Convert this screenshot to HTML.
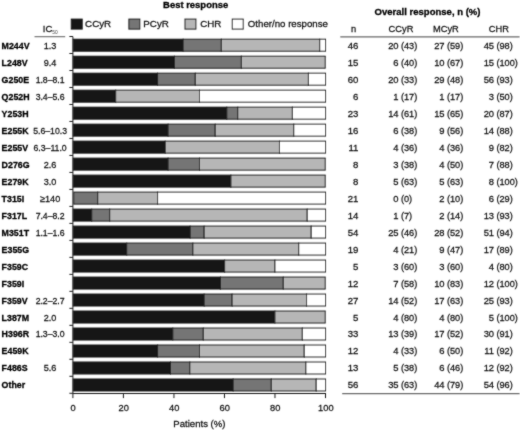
<!DOCTYPE html>
<html><head><meta charset="utf-8"><title>Best response</title>
<style>
html,body{margin:0;padding:0;background:#fff;}
svg{display:block;}
text{font-family:"Liberation Sans",sans-serif;}
.b{font-weight:bold;fill:#000;stroke:#000;stroke-width:0.3;}
.r{fill:#141414;stroke:#141414;stroke-width:0.27;}
</style></head><body>
<svg width="520" height="430" viewBox="0 0 520 430">
<rect width="520" height="430" fill="#fff"/>
<defs><filter id="soft" x="0" y="0" width="520" height="430" filterUnits="userSpaceOnUse"><feConvolveMatrix order="3" kernelMatrix="0.025 0.075 0.025 0.075 0.6 0.075 0.025 0.075 0.025" divisor="1" edgeMode="duplicate" preserveAlpha="false"/></filter></defs>
<g filter="url(#soft)">

<text class="b" transform="translate(163.10 8.30) scale(0.975 1)" font-size="9.7">Best response</text>
<text class="b" transform="translate(374.60 15.30) scale(0.983 1)" font-size="9.7">Overall response, n (%)</text>
<rect x="71.3" y="19.1" width="10.9" height="10" fill="#181818" stroke="#1c1c1c" stroke-width="1"/>
<rect x="128.9" y="19.1" width="10.9" height="10" fill="#757575" stroke="#1c1c1c" stroke-width="1"/>
<rect x="185.0" y="19.1" width="10.9" height="10" fill="#b6b6b6" stroke="#1c1c1c" stroke-width="1"/>
<rect x="232.3" y="19.1" width="10.9" height="10" fill="#ffffff" stroke="#1c1c1c" stroke-width="1"/>
<text class="r" transform="translate(85.10 27.30) scale(1.02 1)" font-size="9.6">CCyR</text>
<text class="r" transform="translate(143.30 27.30) scale(1.02 1)" font-size="9.6">PCyR</text>
<text class="r" transform="translate(200.20 27.30) scale(1.02 1)" font-size="9.6">CHR</text>
<text class="r" transform="translate(247.80 27.30) scale(1.01 1)" font-size="9.6">Other/no response</text>
<text class="r" transform="translate(42.80 32.00) scale(0.98 1)" font-size="9.7">IC<tspan font-size="4.9" dy="1.5" stroke-width="0" fill="#444">50</tspan></text>
<line x1="34.5" y1="36.7" x2="65.2" y2="36.7" stroke="#6a6a6a" stroke-width="1.1"/>
<text class="r" transform="translate(353.60 31.80) scale(1.0 1)" font-size="9.3" text-anchor="middle">n</text>
<text class="r" transform="translate(388.60 32.20) scale(0.95 1)" font-size="9.8">CCyR</text>
<text class="r" transform="translate(433.00 32.20) scale(0.95 1)" font-size="9.8">MCyR</text>
<text class="r" transform="translate(488.80 32.20) scale(0.95 1)" font-size="9.8">CHR</text>
<line x1="340.3" y1="36.9" x2="519.5" y2="36.9" stroke="#6a6a6a" stroke-width="1.2"/>
<line x1="342.2" y1="393.7" x2="519.5" y2="393.7" stroke="#6a6a6a" stroke-width="1.2"/>
<line x1="72.9" y1="36.5" x2="72.9" y2="393.5" stroke="#1c1c1c" stroke-width="1"/>
<line x1="72.4" y1="393.5" x2="326.0" y2="393.5" stroke="#1c1c1c" stroke-width="1"/>
<line x1="69.4" y1="36.50" x2="72.9" y2="36.50" stroke="#1c1c1c" stroke-width="1"/>
<line x1="69.4" y1="53.49" x2="72.9" y2="53.49" stroke="#1c1c1c" stroke-width="1"/>
<line x1="69.4" y1="70.48" x2="72.9" y2="70.48" stroke="#1c1c1c" stroke-width="1"/>
<line x1="69.4" y1="87.47" x2="72.9" y2="87.47" stroke="#1c1c1c" stroke-width="1"/>
<line x1="69.4" y1="104.46" x2="72.9" y2="104.46" stroke="#1c1c1c" stroke-width="1"/>
<line x1="69.4" y1="121.45" x2="72.9" y2="121.45" stroke="#1c1c1c" stroke-width="1"/>
<line x1="69.4" y1="138.44" x2="72.9" y2="138.44" stroke="#1c1c1c" stroke-width="1"/>
<line x1="69.4" y1="155.43" x2="72.9" y2="155.43" stroke="#1c1c1c" stroke-width="1"/>
<line x1="69.4" y1="172.42" x2="72.9" y2="172.42" stroke="#1c1c1c" stroke-width="1"/>
<line x1="69.4" y1="189.41" x2="72.9" y2="189.41" stroke="#1c1c1c" stroke-width="1"/>
<line x1="69.4" y1="206.40" x2="72.9" y2="206.40" stroke="#1c1c1c" stroke-width="1"/>
<line x1="69.4" y1="223.39" x2="72.9" y2="223.39" stroke="#1c1c1c" stroke-width="1"/>
<line x1="69.4" y1="240.38" x2="72.9" y2="240.38" stroke="#1c1c1c" stroke-width="1"/>
<line x1="69.4" y1="257.37" x2="72.9" y2="257.37" stroke="#1c1c1c" stroke-width="1"/>
<line x1="69.4" y1="274.36" x2="72.9" y2="274.36" stroke="#1c1c1c" stroke-width="1"/>
<line x1="69.4" y1="291.35" x2="72.9" y2="291.35" stroke="#1c1c1c" stroke-width="1"/>
<line x1="69.4" y1="308.34" x2="72.9" y2="308.34" stroke="#1c1c1c" stroke-width="1"/>
<line x1="69.4" y1="325.33" x2="72.9" y2="325.33" stroke="#1c1c1c" stroke-width="1"/>
<line x1="69.4" y1="342.32" x2="72.9" y2="342.32" stroke="#1c1c1c" stroke-width="1"/>
<line x1="69.4" y1="359.31" x2="72.9" y2="359.31" stroke="#1c1c1c" stroke-width="1"/>
<line x1="69.4" y1="376.30" x2="72.9" y2="376.30" stroke="#1c1c1c" stroke-width="1"/>
<line x1="69.4" y1="393.29" x2="72.9" y2="393.29" stroke="#1c1c1c" stroke-width="1"/>
<line x1="72.90" y1="393.5" x2="72.90" y2="398.1" stroke="#1c1c1c" stroke-width="1"/>
<text class="r" transform="translate(73.20 410.90) scale(0.95 1)" font-size="9.8" text-anchor="middle">0</text>
<line x1="123.42" y1="393.5" x2="123.42" y2="398.1" stroke="#1c1c1c" stroke-width="1"/>
<text class="r" transform="translate(123.72 410.90) scale(0.95 1)" font-size="9.8" text-anchor="middle">20</text>
<line x1="173.94" y1="393.5" x2="173.94" y2="398.1" stroke="#1c1c1c" stroke-width="1"/>
<text class="r" transform="translate(174.24 410.90) scale(0.95 1)" font-size="9.8" text-anchor="middle">40</text>
<line x1="224.46" y1="393.5" x2="224.46" y2="398.1" stroke="#1c1c1c" stroke-width="1"/>
<text class="r" transform="translate(224.76 410.90) scale(0.95 1)" font-size="9.8" text-anchor="middle">60</text>
<line x1="274.98" y1="393.5" x2="274.98" y2="398.1" stroke="#1c1c1c" stroke-width="1"/>
<text class="r" transform="translate(275.28 410.90) scale(0.95 1)" font-size="9.8" text-anchor="middle">80</text>
<line x1="325.50" y1="393.5" x2="325.50" y2="398.1" stroke="#1c1c1c" stroke-width="1"/>
<text class="r" transform="translate(325.80 410.90) scale(0.95 1)" font-size="9.8" text-anchor="middle">100</text>
<text class="r" transform="translate(199.40 427.40) scale(0.99 1)" font-size="9.7" text-anchor="middle">Patients (%)</text>
<text class="b" transform="translate(1.60 48.90) scale(0.92 1)" font-size="9.6">M244V</text>
<text class="r" transform="translate(50.10 48.90) scale(0.95 1)" font-size="9.6" text-anchor="middle">1.3</text>
<rect x="73.30" y="39.20" width="109.80" height="12.0" fill="#181818" stroke="#1c1c1c" stroke-width="1"/>
<rect x="183.10" y="39.20" width="38.26" height="12.0" fill="#757575" stroke="#1c1c1c" stroke-width="1"/>
<rect x="221.36" y="39.20" width="98.37" height="12.0" fill="#b6b6b6" stroke="#1c1c1c" stroke-width="1"/>
<rect x="319.73" y="39.20" width="5.77" height="12.0" fill="#ffffff" stroke="#1c1c1c" stroke-width="1"/>
<text class="r" transform="translate(358.40 48.90) scale(1.0 1)" font-size="9.6" text-anchor="end">46</text>
<text class="r" transform="translate(398.60 48.90) scale(0.98 1)" font-size="9.6" text-anchor="end">20</text>
<text class="r" transform="translate(400.90 48.90) scale(0.96 1)" font-size="9.6">(43)</text>
<text class="r" transform="translate(444.60 48.90) scale(0.98 1)" font-size="9.6" text-anchor="end">27</text>
<text class="r" transform="translate(446.90 48.90) scale(0.96 1)" font-size="9.6">(59)</text>
<text class="r" transform="translate(494.10 48.90) scale(0.98 1)" font-size="9.6" text-anchor="end">45</text>
<text class="r" transform="translate(496.40 48.90) scale(0.96 1)" font-size="9.6">(98)</text>
<text class="b" transform="translate(1.60 65.88) scale(0.92 1)" font-size="9.6">L248V</text>
<text class="r" transform="translate(50.10 65.88) scale(0.95 1)" font-size="9.6" text-anchor="middle">9.4</text>
<rect x="73.30" y="56.19" width="101.06" height="12.0" fill="#181818" stroke="#1c1c1c" stroke-width="1"/>
<rect x="174.36" y="56.19" width="67.04" height="12.0" fill="#757575" stroke="#1c1c1c" stroke-width="1"/>
<rect x="241.40" y="56.19" width="83.80" height="12.0" fill="#b6b6b6" stroke="#1c1c1c" stroke-width="1"/>
<text class="r" transform="translate(358.40 65.88) scale(1.0 1)" font-size="9.6" text-anchor="end">15</text>
<text class="r" transform="translate(398.60 65.88) scale(0.98 1)" font-size="9.6" text-anchor="end">6</text>
<text class="r" transform="translate(400.90 65.88) scale(0.96 1)" font-size="9.6">(40)</text>
<text class="r" transform="translate(444.60 65.88) scale(0.98 1)" font-size="9.6" text-anchor="end">10</text>
<text class="r" transform="translate(446.90 65.88) scale(0.96 1)" font-size="9.6">(67)</text>
<text class="r" transform="translate(494.10 65.88) scale(0.98 1)" font-size="9.6" text-anchor="end">15</text>
<text class="r" transform="translate(496.40 65.88) scale(0.96 1)" font-size="9.6">(100)</text>
<text class="b" transform="translate(1.60 82.85) scale(0.92 1)" font-size="9.6">G250E</text>
<text class="r" transform="translate(50.10 82.85) scale(0.905 1)" font-size="9.6" text-anchor="middle">1.8–8.1</text>
<rect x="73.30" y="73.17" width="84.30" height="12.0" fill="#181818" stroke="#1c1c1c" stroke-width="1"/>
<rect x="157.60" y="73.17" width="37.71" height="12.0" fill="#757575" stroke="#1c1c1c" stroke-width="1"/>
<rect x="195.31" y="73.17" width="113.13" height="12.0" fill="#b6b6b6" stroke="#1c1c1c" stroke-width="1"/>
<rect x="308.44" y="73.17" width="17.06" height="12.0" fill="#ffffff" stroke="#1c1c1c" stroke-width="1"/>
<text class="r" transform="translate(358.40 82.85) scale(1.0 1)" font-size="9.6" text-anchor="end">60</text>
<text class="r" transform="translate(398.60 82.85) scale(0.98 1)" font-size="9.6" text-anchor="end">20</text>
<text class="r" transform="translate(400.90 82.85) scale(0.96 1)" font-size="9.6">(33)</text>
<text class="r" transform="translate(444.60 82.85) scale(0.98 1)" font-size="9.6" text-anchor="end">29</text>
<text class="r" transform="translate(446.90 82.85) scale(0.96 1)" font-size="9.6">(48)</text>
<text class="r" transform="translate(494.10 82.85) scale(0.98 1)" font-size="9.6" text-anchor="end">56</text>
<text class="r" transform="translate(496.40 82.85) scale(0.96 1)" font-size="9.6">(93)</text>
<text class="b" transform="translate(1.60 99.83) scale(0.92 1)" font-size="9.6">Q252H</text>
<text class="r" transform="translate(50.10 99.83) scale(0.905 1)" font-size="9.6" text-anchor="middle">3.4–5.6</text>
<rect x="73.30" y="90.17" width="42.40" height="12.0" fill="#181818" stroke="#1c1c1c" stroke-width="1"/>
<rect x="115.70" y="90.17" width="83.80" height="12.0" fill="#b6b6b6" stroke="#1c1c1c" stroke-width="1"/>
<rect x="199.50" y="90.17" width="126.00" height="12.0" fill="#ffffff" stroke="#1c1c1c" stroke-width="1"/>
<text class="r" transform="translate(358.40 99.83) scale(1.0 1)" font-size="9.6" text-anchor="end">6</text>
<text class="r" transform="translate(398.60 99.83) scale(0.98 1)" font-size="9.6" text-anchor="end">1</text>
<text class="r" transform="translate(400.90 99.83) scale(0.96 1)" font-size="9.6">(17)</text>
<text class="r" transform="translate(444.60 99.83) scale(0.98 1)" font-size="9.6" text-anchor="end">1</text>
<text class="r" transform="translate(446.90 99.83) scale(0.96 1)" font-size="9.6">(17)</text>
<text class="r" transform="translate(494.10 99.83) scale(0.98 1)" font-size="9.6" text-anchor="end">3</text>
<text class="r" transform="translate(496.40 99.83) scale(0.96 1)" font-size="9.6">(50)</text>
<text class="b" transform="translate(1.60 116.80) scale(0.92 1)" font-size="9.6">Y253H</text>
<rect x="73.30" y="107.16" width="153.53" height="12.0" fill="#181818" stroke="#1c1c1c" stroke-width="1"/>
<rect x="226.83" y="107.16" width="10.93" height="12.0" fill="#757575" stroke="#1c1c1c" stroke-width="1"/>
<rect x="237.76" y="107.16" width="54.65" height="12.0" fill="#b6b6b6" stroke="#1c1c1c" stroke-width="1"/>
<rect x="292.41" y="107.16" width="33.09" height="12.0" fill="#ffffff" stroke="#1c1c1c" stroke-width="1"/>
<text class="r" transform="translate(358.40 116.80) scale(1.0 1)" font-size="9.6" text-anchor="end">23</text>
<text class="r" transform="translate(398.60 116.80) scale(0.98 1)" font-size="9.6" text-anchor="end">14</text>
<text class="r" transform="translate(400.90 116.80) scale(0.96 1)" font-size="9.6">(61)</text>
<text class="r" transform="translate(444.60 116.80) scale(0.98 1)" font-size="9.6" text-anchor="end">15</text>
<text class="r" transform="translate(446.90 116.80) scale(0.96 1)" font-size="9.6">(65)</text>
<text class="r" transform="translate(494.10 116.80) scale(0.98 1)" font-size="9.6" text-anchor="end">20</text>
<text class="r" transform="translate(496.40 116.80) scale(0.96 1)" font-size="9.6">(87)</text>
<text class="b" transform="translate(1.60 133.78) scale(0.92 1)" font-size="9.6">E255K</text>
<text class="r" transform="translate(50.10 133.78) scale(0.905 1)" font-size="9.6" text-anchor="middle">5.6–10.3</text>
<rect x="73.30" y="124.14" width="94.77" height="12.0" fill="#181818" stroke="#1c1c1c" stroke-width="1"/>
<rect x="168.07" y="124.14" width="47.14" height="12.0" fill="#757575" stroke="#1c1c1c" stroke-width="1"/>
<rect x="215.21" y="124.14" width="78.56" height="12.0" fill="#b6b6b6" stroke="#1c1c1c" stroke-width="1"/>
<rect x="293.77" y="124.14" width="31.73" height="12.0" fill="#ffffff" stroke="#1c1c1c" stroke-width="1"/>
<text class="r" transform="translate(358.40 133.78) scale(1.0 1)" font-size="9.6" text-anchor="end">16</text>
<text class="r" transform="translate(398.60 133.78) scale(0.98 1)" font-size="9.6" text-anchor="end">6</text>
<text class="r" transform="translate(400.90 133.78) scale(0.96 1)" font-size="9.6">(38)</text>
<text class="r" transform="translate(444.60 133.78) scale(0.98 1)" font-size="9.6" text-anchor="end">9</text>
<text class="r" transform="translate(446.90 133.78) scale(0.96 1)" font-size="9.6">(56)</text>
<text class="r" transform="translate(494.10 133.78) scale(0.98 1)" font-size="9.6" text-anchor="end">14</text>
<text class="r" transform="translate(496.40 133.78) scale(0.96 1)" font-size="9.6">(88)</text>
<text class="b" transform="translate(1.60 150.75) scale(0.92 1)" font-size="9.6">E255V</text>
<text class="r" transform="translate(50.10 150.75) scale(0.905 1)" font-size="9.6" text-anchor="middle">6.3–11.0</text>
<rect x="73.30" y="141.13" width="91.92" height="12.0" fill="#181818" stroke="#1c1c1c" stroke-width="1"/>
<rect x="165.22" y="141.13" width="114.27" height="12.0" fill="#b6b6b6" stroke="#1c1c1c" stroke-width="1"/>
<rect x="279.49" y="141.13" width="46.01" height="12.0" fill="#ffffff" stroke="#1c1c1c" stroke-width="1"/>
<text class="r" transform="translate(358.40 150.75) scale(1.0 1)" font-size="9.6" text-anchor="end">11</text>
<text class="r" transform="translate(398.60 150.75) scale(0.98 1)" font-size="9.6" text-anchor="end">4</text>
<text class="r" transform="translate(400.90 150.75) scale(0.96 1)" font-size="9.6">(36)</text>
<text class="r" transform="translate(444.60 150.75) scale(0.98 1)" font-size="9.6" text-anchor="end">4</text>
<text class="r" transform="translate(446.90 150.75) scale(0.96 1)" font-size="9.6">(36)</text>
<text class="r" transform="translate(494.10 150.75) scale(0.98 1)" font-size="9.6" text-anchor="end">9</text>
<text class="r" transform="translate(496.40 150.75) scale(0.96 1)" font-size="9.6">(82)</text>
<text class="b" transform="translate(1.60 167.73) scale(0.92 1)" font-size="9.6">D276G</text>
<text class="r" transform="translate(50.10 167.73) scale(0.95 1)" font-size="9.6" text-anchor="middle">2.6</text>
<rect x="73.30" y="158.12" width="94.77" height="12.0" fill="#181818" stroke="#1c1c1c" stroke-width="1"/>
<rect x="168.07" y="158.12" width="31.43" height="12.0" fill="#757575" stroke="#1c1c1c" stroke-width="1"/>
<rect x="199.50" y="158.12" width="125.70" height="12.0" fill="#b6b6b6" stroke="#1c1c1c" stroke-width="1"/>
<text class="r" transform="translate(358.40 167.73) scale(1.0 1)" font-size="9.6" text-anchor="end">8</text>
<text class="r" transform="translate(398.60 167.73) scale(0.98 1)" font-size="9.6" text-anchor="end">3</text>
<text class="r" transform="translate(400.90 167.73) scale(0.96 1)" font-size="9.6">(38)</text>
<text class="r" transform="translate(444.60 167.73) scale(0.98 1)" font-size="9.6" text-anchor="end">4</text>
<text class="r" transform="translate(446.90 167.73) scale(0.96 1)" font-size="9.6">(50)</text>
<text class="r" transform="translate(494.10 167.73) scale(0.98 1)" font-size="9.6" text-anchor="end">7</text>
<text class="r" transform="translate(496.40 167.73) scale(0.96 1)" font-size="9.6">(88)</text>
<text class="b" transform="translate(1.60 184.70) scale(0.92 1)" font-size="9.6">E279K</text>
<text class="r" transform="translate(50.10 184.70) scale(0.95 1)" font-size="9.6" text-anchor="middle">3.0</text>
<rect x="73.30" y="175.11" width="157.62" height="12.0" fill="#181818" stroke="#1c1c1c" stroke-width="1"/>
<rect x="230.93" y="175.11" width="94.27" height="12.0" fill="#b6b6b6" stroke="#1c1c1c" stroke-width="1"/>
<text class="r" transform="translate(358.40 184.70) scale(1.0 1)" font-size="9.6" text-anchor="end">8</text>
<text class="r" transform="translate(398.60 184.70) scale(0.98 1)" font-size="9.6" text-anchor="end">5</text>
<text class="r" transform="translate(400.90 184.70) scale(0.96 1)" font-size="9.6">(63)</text>
<text class="r" transform="translate(444.60 184.70) scale(0.98 1)" font-size="9.6" text-anchor="end">5</text>
<text class="r" transform="translate(446.90 184.70) scale(0.96 1)" font-size="9.6">(63)</text>
<text class="r" transform="translate(494.10 184.70) scale(0.98 1)" font-size="9.6" text-anchor="end">8</text>
<text class="r" transform="translate(496.40 184.70) scale(0.96 1)" font-size="9.6">(100)</text>
<text class="b" transform="translate(1.60 201.68) scale(0.92 1)" font-size="9.6">T315I</text>
<text class="r" transform="translate(50.10 201.68) scale(0.95 1)" font-size="9.6" text-anchor="middle">≥140</text>
<rect x="73.80" y="192.10" width="23.94" height="12.0" fill="#757575" stroke="#1c1c1c" stroke-width="1"/>
<rect x="97.74" y="192.10" width="59.86" height="12.0" fill="#b6b6b6" stroke="#1c1c1c" stroke-width="1"/>
<rect x="157.60" y="192.10" width="167.90" height="12.0" fill="#ffffff" stroke="#1c1c1c" stroke-width="1"/>
<text class="r" transform="translate(358.40 201.68) scale(1.0 1)" font-size="9.6" text-anchor="end">21</text>
<text class="r" transform="translate(398.60 201.68) scale(0.98 1)" font-size="9.6" text-anchor="end">0</text>
<text class="r" transform="translate(400.90 201.68) scale(0.96 1)" font-size="9.6">(0)</text>
<text class="r" transform="translate(444.60 201.68) scale(0.98 1)" font-size="9.6" text-anchor="end">2</text>
<text class="r" transform="translate(446.90 201.68) scale(0.96 1)" font-size="9.6">(10)</text>
<text class="r" transform="translate(494.10 201.68) scale(0.98 1)" font-size="9.6" text-anchor="end">6</text>
<text class="r" transform="translate(496.40 201.68) scale(0.96 1)" font-size="9.6">(29)</text>
<text class="b" transform="translate(1.60 218.65) scale(0.92 1)" font-size="9.6">F317L</text>
<text class="r" transform="translate(50.10 218.65) scale(0.905 1)" font-size="9.6" text-anchor="middle">7.4–8.2</text>
<rect x="73.30" y="209.09" width="18.46" height="12.0" fill="#181818" stroke="#1c1c1c" stroke-width="1"/>
<rect x="91.76" y="209.09" width="17.96" height="12.0" fill="#757575" stroke="#1c1c1c" stroke-width="1"/>
<rect x="109.71" y="209.09" width="197.53" height="12.0" fill="#b6b6b6" stroke="#1c1c1c" stroke-width="1"/>
<rect x="307.24" y="209.09" width="18.26" height="12.0" fill="#ffffff" stroke="#1c1c1c" stroke-width="1"/>
<text class="r" transform="translate(358.40 218.65) scale(1.0 1)" font-size="9.6" text-anchor="end">14</text>
<text class="r" transform="translate(398.60 218.65) scale(0.98 1)" font-size="9.6" text-anchor="end">1</text>
<text class="r" transform="translate(400.90 218.65) scale(0.96 1)" font-size="9.6">(7)</text>
<text class="r" transform="translate(444.60 218.65) scale(0.98 1)" font-size="9.6" text-anchor="end">2</text>
<text class="r" transform="translate(446.90 218.65) scale(0.96 1)" font-size="9.6">(14)</text>
<text class="r" transform="translate(494.10 218.65) scale(0.98 1)" font-size="9.6" text-anchor="end">13</text>
<text class="r" transform="translate(496.40 218.65) scale(0.96 1)" font-size="9.6">(93)</text>
<text class="b" transform="translate(1.60 235.63) scale(0.92 1)" font-size="9.6">M351T</text>
<text class="r" transform="translate(50.10 235.63) scale(0.905 1)" font-size="9.6" text-anchor="middle">1.1–1.6</text>
<rect x="73.30" y="226.08" width="116.89" height="12.0" fill="#181818" stroke="#1c1c1c" stroke-width="1"/>
<rect x="190.19" y="226.08" width="13.97" height="12.0" fill="#757575" stroke="#1c1c1c" stroke-width="1"/>
<rect x="204.16" y="226.08" width="107.08" height="12.0" fill="#b6b6b6" stroke="#1c1c1c" stroke-width="1"/>
<rect x="311.23" y="226.08" width="14.27" height="12.0" fill="#ffffff" stroke="#1c1c1c" stroke-width="1"/>
<text class="r" transform="translate(358.40 235.63) scale(1.0 1)" font-size="9.6" text-anchor="end">54</text>
<text class="r" transform="translate(398.60 235.63) scale(0.98 1)" font-size="9.6" text-anchor="end">25</text>
<text class="r" transform="translate(400.90 235.63) scale(0.96 1)" font-size="9.6">(46)</text>
<text class="r" transform="translate(444.60 235.63) scale(0.98 1)" font-size="9.6" text-anchor="end">28</text>
<text class="r" transform="translate(446.90 235.63) scale(0.96 1)" font-size="9.6">(52)</text>
<text class="r" transform="translate(494.10 235.63) scale(0.98 1)" font-size="9.6" text-anchor="end">51</text>
<text class="r" transform="translate(496.40 235.63) scale(0.96 1)" font-size="9.6">(94)</text>
<text class="b" transform="translate(1.60 252.60) scale(0.92 1)" font-size="9.6">E355G</text>
<rect x="73.30" y="243.07" width="53.43" height="12.0" fill="#181818" stroke="#1c1c1c" stroke-width="1"/>
<rect x="126.73" y="243.07" width="66.16" height="12.0" fill="#757575" stroke="#1c1c1c" stroke-width="1"/>
<rect x="192.88" y="243.07" width="105.85" height="12.0" fill="#b6b6b6" stroke="#1c1c1c" stroke-width="1"/>
<rect x="298.74" y="243.07" width="26.76" height="12.0" fill="#ffffff" stroke="#1c1c1c" stroke-width="1"/>
<text class="r" transform="translate(358.40 252.60) scale(1.0 1)" font-size="9.6" text-anchor="end">19</text>
<text class="r" transform="translate(398.60 252.60) scale(0.98 1)" font-size="9.6" text-anchor="end">4</text>
<text class="r" transform="translate(400.90 252.60) scale(0.96 1)" font-size="9.6">(21)</text>
<text class="r" transform="translate(444.60 252.60) scale(0.98 1)" font-size="9.6" text-anchor="end">9</text>
<text class="r" transform="translate(446.90 252.60) scale(0.96 1)" font-size="9.6">(47)</text>
<text class="r" transform="translate(494.10 252.60) scale(0.98 1)" font-size="9.6" text-anchor="end">17</text>
<text class="r" transform="translate(496.40 252.60) scale(0.96 1)" font-size="9.6">(89)</text>
<text class="b" transform="translate(1.60 269.57) scale(0.92 1)" font-size="9.6">F359C</text>
<rect x="73.30" y="260.06" width="151.34" height="12.0" fill="#181818" stroke="#1c1c1c" stroke-width="1"/>
<rect x="224.64" y="260.06" width="50.28" height="12.0" fill="#b6b6b6" stroke="#1c1c1c" stroke-width="1"/>
<rect x="274.92" y="260.06" width="50.58" height="12.0" fill="#ffffff" stroke="#1c1c1c" stroke-width="1"/>
<text class="r" transform="translate(358.40 269.57) scale(1.0 1)" font-size="9.6" text-anchor="end">5</text>
<text class="r" transform="translate(398.60 269.57) scale(0.98 1)" font-size="9.6" text-anchor="end">3</text>
<text class="r" transform="translate(400.90 269.57) scale(0.96 1)" font-size="9.6">(60)</text>
<text class="r" transform="translate(444.60 269.57) scale(0.98 1)" font-size="9.6" text-anchor="end">3</text>
<text class="r" transform="translate(446.90 269.57) scale(0.96 1)" font-size="9.6">(60)</text>
<text class="r" transform="translate(494.10 269.57) scale(0.98 1)" font-size="9.6" text-anchor="end">4</text>
<text class="r" transform="translate(496.40 269.57) scale(0.96 1)" font-size="9.6">(80)</text>
<text class="b" transform="translate(1.60 286.55) scale(0.92 1)" font-size="9.6">F359I</text>
<rect x="73.30" y="277.06" width="147.15" height="12.0" fill="#181818" stroke="#1c1c1c" stroke-width="1"/>
<rect x="220.45" y="277.06" width="62.85" height="12.0" fill="#757575" stroke="#1c1c1c" stroke-width="1"/>
<rect x="283.30" y="277.06" width="41.90" height="12.0" fill="#b6b6b6" stroke="#1c1c1c" stroke-width="1"/>
<text class="r" transform="translate(358.40 286.55) scale(1.0 1)" font-size="9.6" text-anchor="end">12</text>
<text class="r" transform="translate(398.60 286.55) scale(0.98 1)" font-size="9.6" text-anchor="end">7</text>
<text class="r" transform="translate(400.90 286.55) scale(0.96 1)" font-size="9.6">(58)</text>
<text class="r" transform="translate(444.60 286.55) scale(0.98 1)" font-size="9.6" text-anchor="end">10</text>
<text class="r" transform="translate(446.90 286.55) scale(0.96 1)" font-size="9.6">(83)</text>
<text class="r" transform="translate(494.10 286.55) scale(0.98 1)" font-size="9.6" text-anchor="end">12</text>
<text class="r" transform="translate(496.40 286.55) scale(0.96 1)" font-size="9.6">(100)</text>
<text class="b" transform="translate(1.60 303.53) scale(0.92 1)" font-size="9.6">F359V</text>
<text class="r" transform="translate(50.10 303.53) scale(0.905 1)" font-size="9.6" text-anchor="middle">2.2–2.7</text>
<rect x="73.30" y="294.04" width="130.86" height="12.0" fill="#181818" stroke="#1c1c1c" stroke-width="1"/>
<rect x="204.16" y="294.04" width="27.93" height="12.0" fill="#757575" stroke="#1c1c1c" stroke-width="1"/>
<rect x="232.09" y="294.04" width="74.49" height="12.0" fill="#b6b6b6" stroke="#1c1c1c" stroke-width="1"/>
<rect x="306.58" y="294.04" width="18.92" height="12.0" fill="#ffffff" stroke="#1c1c1c" stroke-width="1"/>
<text class="r" transform="translate(358.40 303.53) scale(1.0 1)" font-size="9.6" text-anchor="end">27</text>
<text class="r" transform="translate(398.60 303.53) scale(0.98 1)" font-size="9.6" text-anchor="end">14</text>
<text class="r" transform="translate(400.90 303.53) scale(0.96 1)" font-size="9.6">(52)</text>
<text class="r" transform="translate(444.60 303.53) scale(0.98 1)" font-size="9.6" text-anchor="end">17</text>
<text class="r" transform="translate(446.90 303.53) scale(0.96 1)" font-size="9.6">(63)</text>
<text class="r" transform="translate(494.10 303.53) scale(0.98 1)" font-size="9.6" text-anchor="end">25</text>
<text class="r" transform="translate(496.40 303.53) scale(0.96 1)" font-size="9.6">(93)</text>
<text class="b" transform="translate(1.60 320.50) scale(0.92 1)" font-size="9.6">L387M</text>
<text class="r" transform="translate(50.10 320.50) scale(0.95 1)" font-size="9.6" text-anchor="middle">2.0</text>
<rect x="73.30" y="311.03" width="201.62" height="12.0" fill="#181818" stroke="#1c1c1c" stroke-width="1"/>
<rect x="274.92" y="311.03" width="50.28" height="12.0" fill="#b6b6b6" stroke="#1c1c1c" stroke-width="1"/>
<text class="r" transform="translate(358.40 320.50) scale(1.0 1)" font-size="9.6" text-anchor="end">5</text>
<text class="r" transform="translate(398.60 320.50) scale(0.98 1)" font-size="9.6" text-anchor="end">4</text>
<text class="r" transform="translate(400.90 320.50) scale(0.96 1)" font-size="9.6">(80)</text>
<text class="r" transform="translate(444.60 320.50) scale(0.98 1)" font-size="9.6" text-anchor="end">4</text>
<text class="r" transform="translate(446.90 320.50) scale(0.96 1)" font-size="9.6">(80)</text>
<text class="r" transform="translate(494.10 320.50) scale(0.98 1)" font-size="9.6" text-anchor="end">5</text>
<text class="r" transform="translate(496.40 320.50) scale(0.96 1)" font-size="9.6">(100)</text>
<text class="b" transform="translate(1.60 337.48) scale(0.92 1)" font-size="9.6">H396R</text>
<text class="r" transform="translate(50.10 337.48) scale(0.905 1)" font-size="9.6" text-anchor="middle">1.3–3.0</text>
<rect x="73.30" y="328.02" width="99.54" height="12.0" fill="#181818" stroke="#1c1c1c" stroke-width="1"/>
<rect x="172.84" y="328.02" width="30.47" height="12.0" fill="#757575" stroke="#1c1c1c" stroke-width="1"/>
<rect x="203.31" y="328.02" width="99.04" height="12.0" fill="#b6b6b6" stroke="#1c1c1c" stroke-width="1"/>
<rect x="302.35" y="328.02" width="23.15" height="12.0" fill="#ffffff" stroke="#1c1c1c" stroke-width="1"/>
<text class="r" transform="translate(358.40 337.48) scale(1.0 1)" font-size="9.6" text-anchor="end">33</text>
<text class="r" transform="translate(398.60 337.48) scale(0.98 1)" font-size="9.6" text-anchor="end">13</text>
<text class="r" transform="translate(400.90 337.48) scale(0.96 1)" font-size="9.6">(39)</text>
<text class="r" transform="translate(444.60 337.48) scale(0.98 1)" font-size="9.6" text-anchor="end">17</text>
<text class="r" transform="translate(446.90 337.48) scale(0.96 1)" font-size="9.6">(52)</text>
<text class="r" transform="translate(494.10 337.48) scale(0.98 1)" font-size="9.6" text-anchor="end">30</text>
<text class="r" transform="translate(496.40 337.48) scale(0.96 1)" font-size="9.6">(91)</text>
<text class="b" transform="translate(1.60 354.45) scale(0.92 1)" font-size="9.6">E459K</text>
<rect x="73.30" y="345.01" width="84.30" height="12.0" fill="#181818" stroke="#1c1c1c" stroke-width="1"/>
<rect x="157.60" y="345.01" width="41.90" height="12.0" fill="#757575" stroke="#1c1c1c" stroke-width="1"/>
<rect x="199.50" y="345.01" width="104.75" height="12.0" fill="#b6b6b6" stroke="#1c1c1c" stroke-width="1"/>
<rect x="304.25" y="345.01" width="21.25" height="12.0" fill="#ffffff" stroke="#1c1c1c" stroke-width="1"/>
<text class="r" transform="translate(358.40 354.45) scale(1.0 1)" font-size="9.6" text-anchor="end">12</text>
<text class="r" transform="translate(398.60 354.45) scale(0.98 1)" font-size="9.6" text-anchor="end">4</text>
<text class="r" transform="translate(400.90 354.45) scale(0.96 1)" font-size="9.6">(33)</text>
<text class="r" transform="translate(444.60 354.45) scale(0.98 1)" font-size="9.6" text-anchor="end">6</text>
<text class="r" transform="translate(446.90 354.45) scale(0.96 1)" font-size="9.6">(50)</text>
<text class="r" transform="translate(494.10 354.45) scale(0.98 1)" font-size="9.6" text-anchor="end">11</text>
<text class="r" transform="translate(496.40 354.45) scale(0.96 1)" font-size="9.6">(92)</text>
<text class="b" transform="translate(1.60 371.43) scale(0.92 1)" font-size="9.6">F486S</text>
<text class="r" transform="translate(50.10 371.43) scale(0.95 1)" font-size="9.6" text-anchor="middle">5.6</text>
<rect x="73.30" y="362.00" width="97.19" height="12.0" fill="#181818" stroke="#1c1c1c" stroke-width="1"/>
<rect x="170.49" y="362.00" width="19.34" height="12.0" fill="#757575" stroke="#1c1c1c" stroke-width="1"/>
<rect x="189.83" y="362.00" width="116.03" height="12.0" fill="#b6b6b6" stroke="#1c1c1c" stroke-width="1"/>
<rect x="305.86" y="362.00" width="19.64" height="12.0" fill="#ffffff" stroke="#1c1c1c" stroke-width="1"/>
<text class="r" transform="translate(358.40 371.43) scale(1.0 1)" font-size="9.6" text-anchor="end">13</text>
<text class="r" transform="translate(398.60 371.43) scale(0.98 1)" font-size="9.6" text-anchor="end">5</text>
<text class="r" transform="translate(400.90 371.43) scale(0.96 1)" font-size="9.6">(38)</text>
<text class="r" transform="translate(444.60 371.43) scale(0.98 1)" font-size="9.6" text-anchor="end">6</text>
<text class="r" transform="translate(446.90 371.43) scale(0.96 1)" font-size="9.6">(46)</text>
<text class="r" transform="translate(494.10 371.43) scale(0.98 1)" font-size="9.6" text-anchor="end">12</text>
<text class="r" transform="translate(496.40 371.43) scale(0.96 1)" font-size="9.6">(92)</text>
<text class="b" transform="translate(1.60 388.40) scale(0.92 1)" font-size="9.6">Other</text>
<rect x="73.30" y="378.99" width="159.87" height="12.0" fill="#181818" stroke="#1c1c1c" stroke-width="1"/>
<rect x="233.17" y="378.99" width="38.16" height="12.0" fill="#757575" stroke="#1c1c1c" stroke-width="1"/>
<rect x="271.33" y="378.99" width="44.89" height="12.0" fill="#b6b6b6" stroke="#1c1c1c" stroke-width="1"/>
<rect x="316.22" y="378.99" width="9.28" height="12.0" fill="#ffffff" stroke="#1c1c1c" stroke-width="1"/>
<text class="r" transform="translate(358.40 388.40) scale(1.0 1)" font-size="9.6" text-anchor="end">56</text>
<text class="r" transform="translate(398.60 388.40) scale(0.98 1)" font-size="9.6" text-anchor="end">35</text>
<text class="r" transform="translate(400.90 388.40) scale(0.96 1)" font-size="9.6">(63)</text>
<text class="r" transform="translate(444.60 388.40) scale(0.98 1)" font-size="9.6" text-anchor="end">44</text>
<text class="r" transform="translate(446.90 388.40) scale(0.96 1)" font-size="9.6">(79)</text>
<text class="r" transform="translate(494.10 388.40) scale(0.98 1)" font-size="9.6" text-anchor="end">54</text>
<text class="r" transform="translate(496.40 388.40) scale(0.96 1)" font-size="9.6">(96)</text>
</g></svg></body></html>
